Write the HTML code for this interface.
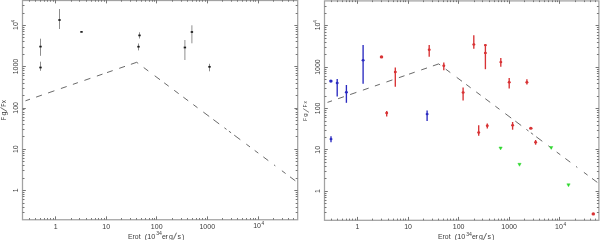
<!DOCTYPE html>
<html><head><meta charset="utf-8"><style>
html,body{margin:0;padding:0;background:#fff;}
body{width:600px;height:240px;overflow:hidden;font-family:"Liberation Sans",sans-serif;}
svg{display:block;}
</style></head><body>
<svg width="600" height="240" viewBox="0 0 600 240" font-family="Liberation Sans, sans-serif">
<defs><filter id="gs" x="0" y="0" width="600" height="240" filterUnits="userSpaceOnUse"><feColorMatrix type="saturate" values="0"/></filter></defs>
<rect width="600" height="240" fill="#fff"/>
<rect x="22.50" y="0.50" width="275.20" height="219.25" fill="none" stroke="#a2a2a2" stroke-width="1.25"/>
<line x1="29.50" y1="219.75" x2="29.50" y2="218.05" stroke="#767676" stroke-width="1.0" />
<line x1="29.50" y1="0.00" x2="29.50" y2="1.70" stroke="#767676" stroke-width="1.0" />
<line x1="35.50" y1="219.75" x2="35.50" y2="218.05" stroke="#767676" stroke-width="1.0" />
<line x1="35.50" y1="0.00" x2="35.50" y2="1.70" stroke="#767676" stroke-width="1.0" />
<line x1="40.50" y1="219.75" x2="40.50" y2="218.05" stroke="#767676" stroke-width="1.0" />
<line x1="40.50" y1="0.00" x2="40.50" y2="1.70" stroke="#767676" stroke-width="1.0" />
<line x1="44.50" y1="219.75" x2="44.50" y2="218.05" stroke="#767676" stroke-width="1.0" />
<line x1="44.50" y1="0.00" x2="44.50" y2="1.70" stroke="#767676" stroke-width="1.0" />
<line x1="47.50" y1="219.75" x2="47.50" y2="218.05" stroke="#767676" stroke-width="1.0" />
<line x1="47.50" y1="0.00" x2="47.50" y2="1.70" stroke="#767676" stroke-width="1.0" />
<line x1="50.50" y1="219.75" x2="50.50" y2="218.05" stroke="#767676" stroke-width="1.0" />
<line x1="50.50" y1="0.00" x2="50.50" y2="1.70" stroke="#767676" stroke-width="1.0" />
<line x1="53.50" y1="219.75" x2="53.50" y2="218.05" stroke="#767676" stroke-width="1.0" />
<line x1="53.50" y1="0.00" x2="53.50" y2="1.70" stroke="#767676" stroke-width="1.0" />
<line x1="55.50" y1="219.75" x2="55.50" y2="216.35" stroke="#767676" stroke-width="1.0" />
<line x1="55.50" y1="0.00" x2="55.50" y2="3.40" stroke="#767676" stroke-width="1.0" />
<line x1="71.50" y1="219.75" x2="71.50" y2="218.05" stroke="#767676" stroke-width="1.0" />
<line x1="71.50" y1="0.00" x2="71.50" y2="1.70" stroke="#767676" stroke-width="1.0" />
<line x1="79.50" y1="219.75" x2="79.50" y2="218.05" stroke="#767676" stroke-width="1.0" />
<line x1="79.50" y1="0.00" x2="79.50" y2="1.70" stroke="#767676" stroke-width="1.0" />
<line x1="86.50" y1="219.75" x2="86.50" y2="218.05" stroke="#767676" stroke-width="1.0" />
<line x1="86.50" y1="0.00" x2="86.50" y2="1.70" stroke="#767676" stroke-width="1.0" />
<line x1="91.50" y1="219.75" x2="91.50" y2="218.05" stroke="#767676" stroke-width="1.0" />
<line x1="91.50" y1="0.00" x2="91.50" y2="1.70" stroke="#767676" stroke-width="1.0" />
<line x1="95.50" y1="219.75" x2="95.50" y2="218.05" stroke="#767676" stroke-width="1.0" />
<line x1="95.50" y1="0.00" x2="95.50" y2="1.70" stroke="#767676" stroke-width="1.0" />
<line x1="98.50" y1="219.75" x2="98.50" y2="218.05" stroke="#767676" stroke-width="1.0" />
<line x1="98.50" y1="0.00" x2="98.50" y2="1.70" stroke="#767676" stroke-width="1.0" />
<line x1="101.50" y1="219.75" x2="101.50" y2="218.05" stroke="#767676" stroke-width="1.0" />
<line x1="101.50" y1="0.00" x2="101.50" y2="1.70" stroke="#767676" stroke-width="1.0" />
<line x1="104.50" y1="219.75" x2="104.50" y2="218.05" stroke="#767676" stroke-width="1.0" />
<line x1="104.50" y1="0.00" x2="104.50" y2="1.70" stroke="#767676" stroke-width="1.0" />
<line x1="106.50" y1="219.75" x2="106.50" y2="216.35" stroke="#767676" stroke-width="1.0" />
<line x1="106.50" y1="0.00" x2="106.50" y2="3.40" stroke="#767676" stroke-width="1.0" />
<line x1="121.50" y1="219.75" x2="121.50" y2="218.05" stroke="#767676" stroke-width="1.0" />
<line x1="121.50" y1="0.00" x2="121.50" y2="1.70" stroke="#767676" stroke-width="1.0" />
<line x1="130.50" y1="219.75" x2="130.50" y2="218.05" stroke="#767676" stroke-width="1.0" />
<line x1="130.50" y1="0.00" x2="130.50" y2="1.70" stroke="#767676" stroke-width="1.0" />
<line x1="136.50" y1="219.75" x2="136.50" y2="218.05" stroke="#767676" stroke-width="1.0" />
<line x1="136.50" y1="0.00" x2="136.50" y2="1.70" stroke="#767676" stroke-width="1.0" />
<line x1="141.50" y1="219.75" x2="141.50" y2="218.05" stroke="#767676" stroke-width="1.0" />
<line x1="141.50" y1="0.00" x2="141.50" y2="1.70" stroke="#767676" stroke-width="1.0" />
<line x1="145.50" y1="219.75" x2="145.50" y2="218.05" stroke="#767676" stroke-width="1.0" />
<line x1="145.50" y1="0.00" x2="145.50" y2="1.70" stroke="#767676" stroke-width="1.0" />
<line x1="149.50" y1="219.75" x2="149.50" y2="218.05" stroke="#767676" stroke-width="1.0" />
<line x1="149.50" y1="0.00" x2="149.50" y2="1.70" stroke="#767676" stroke-width="1.0" />
<line x1="152.50" y1="219.75" x2="152.50" y2="218.05" stroke="#767676" stroke-width="1.0" />
<line x1="152.50" y1="0.00" x2="152.50" y2="1.70" stroke="#767676" stroke-width="1.0" />
<line x1="154.50" y1="219.75" x2="154.50" y2="218.05" stroke="#767676" stroke-width="1.0" />
<line x1="154.50" y1="0.00" x2="154.50" y2="1.70" stroke="#767676" stroke-width="1.0" />
<line x1="156.50" y1="219.75" x2="156.50" y2="216.35" stroke="#767676" stroke-width="1.0" />
<line x1="156.50" y1="0.00" x2="156.50" y2="3.40" stroke="#767676" stroke-width="1.0" />
<line x1="172.50" y1="219.75" x2="172.50" y2="218.05" stroke="#767676" stroke-width="1.0" />
<line x1="172.50" y1="0.00" x2="172.50" y2="1.70" stroke="#767676" stroke-width="1.0" />
<line x1="181.50" y1="219.75" x2="181.50" y2="218.05" stroke="#767676" stroke-width="1.0" />
<line x1="181.50" y1="0.00" x2="181.50" y2="1.70" stroke="#767676" stroke-width="1.0" />
<line x1="187.50" y1="219.75" x2="187.50" y2="218.05" stroke="#767676" stroke-width="1.0" />
<line x1="187.50" y1="0.00" x2="187.50" y2="1.70" stroke="#767676" stroke-width="1.0" />
<line x1="192.50" y1="219.75" x2="192.50" y2="218.05" stroke="#767676" stroke-width="1.0" />
<line x1="192.50" y1="0.00" x2="192.50" y2="1.70" stroke="#767676" stroke-width="1.0" />
<line x1="196.50" y1="219.75" x2="196.50" y2="218.05" stroke="#767676" stroke-width="1.0" />
<line x1="196.50" y1="0.00" x2="196.50" y2="1.70" stroke="#767676" stroke-width="1.0" />
<line x1="199.50" y1="219.75" x2="199.50" y2="218.05" stroke="#767676" stroke-width="1.0" />
<line x1="199.50" y1="0.00" x2="199.50" y2="1.70" stroke="#767676" stroke-width="1.0" />
<line x1="202.50" y1="219.75" x2="202.50" y2="218.05" stroke="#767676" stroke-width="1.0" />
<line x1="202.50" y1="0.00" x2="202.50" y2="1.70" stroke="#767676" stroke-width="1.0" />
<line x1="205.50" y1="219.75" x2="205.50" y2="218.05" stroke="#767676" stroke-width="1.0" />
<line x1="205.50" y1="0.00" x2="205.50" y2="1.70" stroke="#767676" stroke-width="1.0" />
<line x1="207.50" y1="219.75" x2="207.50" y2="216.35" stroke="#767676" stroke-width="1.0" />
<line x1="207.50" y1="0.00" x2="207.50" y2="3.40" stroke="#767676" stroke-width="1.0" />
<line x1="222.50" y1="219.75" x2="222.50" y2="218.05" stroke="#767676" stroke-width="1.0" />
<line x1="222.50" y1="0.00" x2="222.50" y2="1.70" stroke="#767676" stroke-width="1.0" />
<line x1="231.50" y1="219.75" x2="231.50" y2="218.05" stroke="#767676" stroke-width="1.0" />
<line x1="231.50" y1="0.00" x2="231.50" y2="1.70" stroke="#767676" stroke-width="1.0" />
<line x1="237.50" y1="219.75" x2="237.50" y2="218.05" stroke="#767676" stroke-width="1.0" />
<line x1="237.50" y1="0.00" x2="237.50" y2="1.70" stroke="#767676" stroke-width="1.0" />
<line x1="242.50" y1="219.75" x2="242.50" y2="218.05" stroke="#767676" stroke-width="1.0" />
<line x1="242.50" y1="0.00" x2="242.50" y2="1.70" stroke="#767676" stroke-width="1.0" />
<line x1="246.50" y1="219.75" x2="246.50" y2="218.05" stroke="#767676" stroke-width="1.0" />
<line x1="246.50" y1="0.00" x2="246.50" y2="1.70" stroke="#767676" stroke-width="1.0" />
<line x1="250.50" y1="219.75" x2="250.50" y2="218.05" stroke="#767676" stroke-width="1.0" />
<line x1="250.50" y1="0.00" x2="250.50" y2="1.70" stroke="#767676" stroke-width="1.0" />
<line x1="253.50" y1="219.75" x2="253.50" y2="218.05" stroke="#767676" stroke-width="1.0" />
<line x1="253.50" y1="0.00" x2="253.50" y2="1.70" stroke="#767676" stroke-width="1.0" />
<line x1="255.50" y1="219.75" x2="255.50" y2="218.05" stroke="#767676" stroke-width="1.0" />
<line x1="255.50" y1="0.00" x2="255.50" y2="1.70" stroke="#767676" stroke-width="1.0" />
<line x1="258.50" y1="219.75" x2="258.50" y2="216.35" stroke="#767676" stroke-width="1.0" />
<line x1="258.50" y1="0.00" x2="258.50" y2="3.40" stroke="#767676" stroke-width="1.0" />
<line x1="273.50" y1="219.75" x2="273.50" y2="218.05" stroke="#767676" stroke-width="1.0" />
<line x1="273.50" y1="0.00" x2="273.50" y2="1.70" stroke="#767676" stroke-width="1.0" />
<line x1="282.50" y1="219.75" x2="282.50" y2="218.05" stroke="#767676" stroke-width="1.0" />
<line x1="282.50" y1="0.00" x2="282.50" y2="1.70" stroke="#767676" stroke-width="1.0" />
<line x1="288.50" y1="219.75" x2="288.50" y2="218.05" stroke="#767676" stroke-width="1.0" />
<line x1="288.50" y1="0.00" x2="288.50" y2="1.70" stroke="#767676" stroke-width="1.0" />
<line x1="293.50" y1="219.75" x2="293.50" y2="218.05" stroke="#767676" stroke-width="1.0" />
<line x1="293.50" y1="0.00" x2="293.50" y2="1.70" stroke="#767676" stroke-width="1.0" />
<line x1="22.50" y1="212.50" x2="24.50" y2="212.50" stroke="#767676" stroke-width="1.0" />
<line x1="297.70" y1="212.50" x2="295.70" y2="212.50" stroke="#767676" stroke-width="1.0" />
<line x1="22.50" y1="207.50" x2="24.50" y2="207.50" stroke="#767676" stroke-width="1.0" />
<line x1="297.70" y1="207.50" x2="295.70" y2="207.50" stroke="#767676" stroke-width="1.0" />
<line x1="22.50" y1="203.50" x2="24.50" y2="203.50" stroke="#767676" stroke-width="1.0" />
<line x1="297.70" y1="203.50" x2="295.70" y2="203.50" stroke="#767676" stroke-width="1.0" />
<line x1="22.50" y1="199.50" x2="24.50" y2="199.50" stroke="#767676" stroke-width="1.0" />
<line x1="297.70" y1="199.50" x2="295.70" y2="199.50" stroke="#767676" stroke-width="1.0" />
<line x1="22.50" y1="196.50" x2="24.50" y2="196.50" stroke="#767676" stroke-width="1.0" />
<line x1="297.70" y1="196.50" x2="295.70" y2="196.50" stroke="#767676" stroke-width="1.0" />
<line x1="22.50" y1="194.50" x2="24.50" y2="194.50" stroke="#767676" stroke-width="1.0" />
<line x1="297.70" y1="194.50" x2="295.70" y2="194.50" stroke="#767676" stroke-width="1.0" />
<line x1="22.50" y1="192.50" x2="24.50" y2="192.50" stroke="#767676" stroke-width="1.0" />
<line x1="297.70" y1="192.50" x2="295.70" y2="192.50" stroke="#767676" stroke-width="1.0" />
<line x1="22.50" y1="190.50" x2="25.80" y2="190.50" stroke="#767676" stroke-width="1.0" />
<line x1="297.70" y1="190.50" x2="294.40" y2="190.50" stroke="#767676" stroke-width="1.0" />
<line x1="22.50" y1="178.50" x2="24.50" y2="178.50" stroke="#767676" stroke-width="1.0" />
<line x1="297.70" y1="178.50" x2="295.70" y2="178.50" stroke="#767676" stroke-width="1.0" />
<line x1="22.50" y1="170.50" x2="24.50" y2="170.50" stroke="#767676" stroke-width="1.0" />
<line x1="297.70" y1="170.50" x2="295.70" y2="170.50" stroke="#767676" stroke-width="1.0" />
<line x1="22.50" y1="165.50" x2="24.50" y2="165.50" stroke="#767676" stroke-width="1.0" />
<line x1="297.70" y1="165.50" x2="295.70" y2="165.50" stroke="#767676" stroke-width="1.0" />
<line x1="22.50" y1="161.50" x2="24.50" y2="161.50" stroke="#767676" stroke-width="1.0" />
<line x1="297.70" y1="161.50" x2="295.70" y2="161.50" stroke="#767676" stroke-width="1.0" />
<line x1="22.50" y1="158.50" x2="24.50" y2="158.50" stroke="#767676" stroke-width="1.0" />
<line x1="297.70" y1="158.50" x2="295.70" y2="158.50" stroke="#767676" stroke-width="1.0" />
<line x1="22.50" y1="155.50" x2="24.50" y2="155.50" stroke="#767676" stroke-width="1.0" />
<line x1="297.70" y1="155.50" x2="295.70" y2="155.50" stroke="#767676" stroke-width="1.0" />
<line x1="22.50" y1="153.50" x2="24.50" y2="153.50" stroke="#767676" stroke-width="1.0" />
<line x1="297.70" y1="153.50" x2="295.70" y2="153.50" stroke="#767676" stroke-width="1.0" />
<line x1="22.50" y1="151.50" x2="24.50" y2="151.50" stroke="#767676" stroke-width="1.0" />
<line x1="297.70" y1="151.50" x2="295.70" y2="151.50" stroke="#767676" stroke-width="1.0" />
<line x1="22.50" y1="149.50" x2="25.80" y2="149.50" stroke="#767676" stroke-width="1.0" />
<line x1="297.70" y1="149.50" x2="294.40" y2="149.50" stroke="#767676" stroke-width="1.0" />
<line x1="22.50" y1="136.50" x2="24.50" y2="136.50" stroke="#767676" stroke-width="1.0" />
<line x1="297.70" y1="136.50" x2="295.70" y2="136.50" stroke="#767676" stroke-width="1.0" />
<line x1="22.50" y1="129.50" x2="24.50" y2="129.50" stroke="#767676" stroke-width="1.0" />
<line x1="297.70" y1="129.50" x2="295.70" y2="129.50" stroke="#767676" stroke-width="1.0" />
<line x1="22.50" y1="124.50" x2="24.50" y2="124.50" stroke="#767676" stroke-width="1.0" />
<line x1="297.70" y1="124.50" x2="295.70" y2="124.50" stroke="#767676" stroke-width="1.0" />
<line x1="22.50" y1="120.50" x2="24.50" y2="120.50" stroke="#767676" stroke-width="1.0" />
<line x1="297.70" y1="120.50" x2="295.70" y2="120.50" stroke="#767676" stroke-width="1.0" />
<line x1="22.50" y1="117.50" x2="24.50" y2="117.50" stroke="#767676" stroke-width="1.0" />
<line x1="297.70" y1="117.50" x2="295.70" y2="117.50" stroke="#767676" stroke-width="1.0" />
<line x1="22.50" y1="114.50" x2="24.50" y2="114.50" stroke="#767676" stroke-width="1.0" />
<line x1="297.70" y1="114.50" x2="295.70" y2="114.50" stroke="#767676" stroke-width="1.0" />
<line x1="22.50" y1="112.50" x2="24.50" y2="112.50" stroke="#767676" stroke-width="1.0" />
<line x1="297.70" y1="112.50" x2="295.70" y2="112.50" stroke="#767676" stroke-width="1.0" />
<line x1="22.50" y1="109.50" x2="24.50" y2="109.50" stroke="#767676" stroke-width="1.0" />
<line x1="297.70" y1="109.50" x2="295.70" y2="109.50" stroke="#767676" stroke-width="1.0" />
<line x1="22.50" y1="108.50" x2="25.80" y2="108.50" stroke="#767676" stroke-width="1.0" />
<line x1="297.70" y1="108.50" x2="294.40" y2="108.50" stroke="#767676" stroke-width="1.0" />
<line x1="22.50" y1="95.50" x2="24.50" y2="95.50" stroke="#767676" stroke-width="1.0" />
<line x1="297.70" y1="95.50" x2="295.70" y2="95.50" stroke="#767676" stroke-width="1.0" />
<line x1="22.50" y1="88.50" x2="24.50" y2="88.50" stroke="#767676" stroke-width="1.0" />
<line x1="297.70" y1="88.50" x2="295.70" y2="88.50" stroke="#767676" stroke-width="1.0" />
<line x1="22.50" y1="83.50" x2="24.50" y2="83.50" stroke="#767676" stroke-width="1.0" />
<line x1="297.70" y1="83.50" x2="295.70" y2="83.50" stroke="#767676" stroke-width="1.0" />
<line x1="22.50" y1="79.50" x2="24.50" y2="79.50" stroke="#767676" stroke-width="1.0" />
<line x1="297.70" y1="79.50" x2="295.70" y2="79.50" stroke="#767676" stroke-width="1.0" />
<line x1="22.50" y1="75.50" x2="24.50" y2="75.50" stroke="#767676" stroke-width="1.0" />
<line x1="297.70" y1="75.50" x2="295.70" y2="75.50" stroke="#767676" stroke-width="1.0" />
<line x1="22.50" y1="73.50" x2="24.50" y2="73.50" stroke="#767676" stroke-width="1.0" />
<line x1="297.70" y1="73.50" x2="295.70" y2="73.50" stroke="#767676" stroke-width="1.0" />
<line x1="22.50" y1="70.50" x2="24.50" y2="70.50" stroke="#767676" stroke-width="1.0" />
<line x1="297.70" y1="70.50" x2="295.70" y2="70.50" stroke="#767676" stroke-width="1.0" />
<line x1="22.50" y1="68.50" x2="24.50" y2="68.50" stroke="#767676" stroke-width="1.0" />
<line x1="297.70" y1="68.50" x2="295.70" y2="68.50" stroke="#767676" stroke-width="1.0" />
<line x1="22.50" y1="66.50" x2="25.80" y2="66.50" stroke="#767676" stroke-width="1.0" />
<line x1="297.70" y1="66.50" x2="294.40" y2="66.50" stroke="#767676" stroke-width="1.0" />
<line x1="22.50" y1="54.50" x2="24.50" y2="54.50" stroke="#767676" stroke-width="1.0" />
<line x1="297.70" y1="54.50" x2="295.70" y2="54.50" stroke="#767676" stroke-width="1.0" />
<line x1="22.50" y1="47.50" x2="24.50" y2="47.50" stroke="#767676" stroke-width="1.0" />
<line x1="297.70" y1="47.50" x2="295.70" y2="47.50" stroke="#767676" stroke-width="1.0" />
<line x1="22.50" y1="41.50" x2="24.50" y2="41.50" stroke="#767676" stroke-width="1.0" />
<line x1="297.70" y1="41.50" x2="295.70" y2="41.50" stroke="#767676" stroke-width="1.0" />
<line x1="22.50" y1="37.50" x2="24.50" y2="37.50" stroke="#767676" stroke-width="1.0" />
<line x1="297.70" y1="37.50" x2="295.70" y2="37.50" stroke="#767676" stroke-width="1.0" />
<line x1="22.50" y1="34.50" x2="24.50" y2="34.50" stroke="#767676" stroke-width="1.0" />
<line x1="297.70" y1="34.50" x2="295.70" y2="34.50" stroke="#767676" stroke-width="1.0" />
<line x1="22.50" y1="31.50" x2="24.50" y2="31.50" stroke="#767676" stroke-width="1.0" />
<line x1="297.70" y1="31.50" x2="295.70" y2="31.50" stroke="#767676" stroke-width="1.0" />
<line x1="22.50" y1="29.50" x2="24.50" y2="29.50" stroke="#767676" stroke-width="1.0" />
<line x1="297.70" y1="29.50" x2="295.70" y2="29.50" stroke="#767676" stroke-width="1.0" />
<line x1="22.50" y1="27.50" x2="24.50" y2="27.50" stroke="#767676" stroke-width="1.0" />
<line x1="297.70" y1="27.50" x2="295.70" y2="27.50" stroke="#767676" stroke-width="1.0" />
<line x1="22.50" y1="25.50" x2="25.80" y2="25.50" stroke="#767676" stroke-width="1.0" />
<line x1="297.70" y1="25.50" x2="294.40" y2="25.50" stroke="#767676" stroke-width="1.0" />
<line x1="22.50" y1="13.50" x2="24.50" y2="13.50" stroke="#767676" stroke-width="1.0" />
<line x1="297.70" y1="13.50" x2="295.70" y2="13.50" stroke="#767676" stroke-width="1.0" />
<line x1="22.50" y1="5.50" x2="24.50" y2="5.50" stroke="#767676" stroke-width="1.0" />
<line x1="297.70" y1="5.50" x2="295.70" y2="5.50" stroke="#767676" stroke-width="1.0" />
<rect x="324.50" y="0.90" width="274.40" height="219.40" fill="none" stroke="#a2a2a2" stroke-width="1.25"/>
<line x1="331.50" y1="220.30" x2="331.50" y2="218.60" stroke="#767676" stroke-width="1.0" />
<line x1="331.50" y1="0.40" x2="331.50" y2="2.10" stroke="#767676" stroke-width="1.0" />
<line x1="337.50" y1="220.30" x2="337.50" y2="218.60" stroke="#767676" stroke-width="1.0" />
<line x1="337.50" y1="0.40" x2="337.50" y2="2.10" stroke="#767676" stroke-width="1.0" />
<line x1="342.50" y1="220.30" x2="342.50" y2="218.60" stroke="#767676" stroke-width="1.0" />
<line x1="342.50" y1="0.40" x2="342.50" y2="2.10" stroke="#767676" stroke-width="1.0" />
<line x1="346.50" y1="220.30" x2="346.50" y2="218.60" stroke="#767676" stroke-width="1.0" />
<line x1="346.50" y1="0.40" x2="346.50" y2="2.10" stroke="#767676" stroke-width="1.0" />
<line x1="349.50" y1="220.30" x2="349.50" y2="218.60" stroke="#767676" stroke-width="1.0" />
<line x1="349.50" y1="0.40" x2="349.50" y2="2.10" stroke="#767676" stroke-width="1.0" />
<line x1="352.50" y1="220.30" x2="352.50" y2="218.60" stroke="#767676" stroke-width="1.0" />
<line x1="352.50" y1="0.40" x2="352.50" y2="2.10" stroke="#767676" stroke-width="1.0" />
<line x1="355.50" y1="220.30" x2="355.50" y2="218.60" stroke="#767676" stroke-width="1.0" />
<line x1="355.50" y1="0.40" x2="355.50" y2="2.10" stroke="#767676" stroke-width="1.0" />
<line x1="357.50" y1="220.30" x2="357.50" y2="216.90" stroke="#767676" stroke-width="1.0" />
<line x1="357.50" y1="0.40" x2="357.50" y2="3.80" stroke="#767676" stroke-width="1.0" />
<line x1="372.50" y1="220.30" x2="372.50" y2="218.60" stroke="#767676" stroke-width="1.0" />
<line x1="372.50" y1="0.40" x2="372.50" y2="2.10" stroke="#767676" stroke-width="1.0" />
<line x1="381.50" y1="220.30" x2="381.50" y2="218.60" stroke="#767676" stroke-width="1.0" />
<line x1="381.50" y1="0.40" x2="381.50" y2="2.10" stroke="#767676" stroke-width="1.0" />
<line x1="388.50" y1="220.30" x2="388.50" y2="218.60" stroke="#767676" stroke-width="1.0" />
<line x1="388.50" y1="0.40" x2="388.50" y2="2.10" stroke="#767676" stroke-width="1.0" />
<line x1="393.50" y1="220.30" x2="393.50" y2="218.60" stroke="#767676" stroke-width="1.0" />
<line x1="393.50" y1="0.40" x2="393.50" y2="2.10" stroke="#767676" stroke-width="1.0" />
<line x1="397.50" y1="220.30" x2="397.50" y2="218.60" stroke="#767676" stroke-width="1.0" />
<line x1="397.50" y1="0.40" x2="397.50" y2="2.10" stroke="#767676" stroke-width="1.0" />
<line x1="400.50" y1="220.30" x2="400.50" y2="218.60" stroke="#767676" stroke-width="1.0" />
<line x1="400.50" y1="0.40" x2="400.50" y2="2.10" stroke="#767676" stroke-width="1.0" />
<line x1="403.50" y1="220.30" x2="403.50" y2="218.60" stroke="#767676" stroke-width="1.0" />
<line x1="403.50" y1="0.40" x2="403.50" y2="2.10" stroke="#767676" stroke-width="1.0" />
<line x1="405.50" y1="220.30" x2="405.50" y2="218.60" stroke="#767676" stroke-width="1.0" />
<line x1="405.50" y1="0.40" x2="405.50" y2="2.10" stroke="#767676" stroke-width="1.0" />
<line x1="408.50" y1="220.30" x2="408.50" y2="216.90" stroke="#767676" stroke-width="1.0" />
<line x1="408.50" y1="0.40" x2="408.50" y2="3.80" stroke="#767676" stroke-width="1.0" />
<line x1="423.50" y1="220.30" x2="423.50" y2="218.60" stroke="#767676" stroke-width="1.0" />
<line x1="423.50" y1="0.40" x2="423.50" y2="2.10" stroke="#767676" stroke-width="1.0" />
<line x1="432.50" y1="220.30" x2="432.50" y2="218.60" stroke="#767676" stroke-width="1.0" />
<line x1="432.50" y1="0.40" x2="432.50" y2="2.10" stroke="#767676" stroke-width="1.0" />
<line x1="438.50" y1="220.30" x2="438.50" y2="218.60" stroke="#767676" stroke-width="1.0" />
<line x1="438.50" y1="0.40" x2="438.50" y2="2.10" stroke="#767676" stroke-width="1.0" />
<line x1="443.50" y1="220.30" x2="443.50" y2="218.60" stroke="#767676" stroke-width="1.0" />
<line x1="443.50" y1="0.40" x2="443.50" y2="2.10" stroke="#767676" stroke-width="1.0" />
<line x1="447.50" y1="220.30" x2="447.50" y2="218.60" stroke="#767676" stroke-width="1.0" />
<line x1="447.50" y1="0.40" x2="447.50" y2="2.10" stroke="#767676" stroke-width="1.0" />
<line x1="450.50" y1="220.30" x2="450.50" y2="218.60" stroke="#767676" stroke-width="1.0" />
<line x1="450.50" y1="0.40" x2="450.50" y2="2.10" stroke="#767676" stroke-width="1.0" />
<line x1="453.50" y1="220.30" x2="453.50" y2="218.60" stroke="#767676" stroke-width="1.0" />
<line x1="453.50" y1="0.40" x2="453.50" y2="2.10" stroke="#767676" stroke-width="1.0" />
<line x1="456.50" y1="220.30" x2="456.50" y2="218.60" stroke="#767676" stroke-width="1.0" />
<line x1="456.50" y1="0.40" x2="456.50" y2="2.10" stroke="#767676" stroke-width="1.0" />
<line x1="458.50" y1="220.30" x2="458.50" y2="216.90" stroke="#767676" stroke-width="1.0" />
<line x1="458.50" y1="0.40" x2="458.50" y2="3.80" stroke="#767676" stroke-width="1.0" />
<line x1="474.50" y1="220.30" x2="474.50" y2="218.60" stroke="#767676" stroke-width="1.0" />
<line x1="474.50" y1="0.40" x2="474.50" y2="2.10" stroke="#767676" stroke-width="1.0" />
<line x1="482.50" y1="220.30" x2="482.50" y2="218.60" stroke="#767676" stroke-width="1.0" />
<line x1="482.50" y1="0.40" x2="482.50" y2="2.10" stroke="#767676" stroke-width="1.0" />
<line x1="489.50" y1="220.30" x2="489.50" y2="218.60" stroke="#767676" stroke-width="1.0" />
<line x1="489.50" y1="0.40" x2="489.50" y2="2.10" stroke="#767676" stroke-width="1.0" />
<line x1="494.50" y1="220.30" x2="494.50" y2="218.60" stroke="#767676" stroke-width="1.0" />
<line x1="494.50" y1="0.40" x2="494.50" y2="2.10" stroke="#767676" stroke-width="1.0" />
<line x1="498.50" y1="220.30" x2="498.50" y2="218.60" stroke="#767676" stroke-width="1.0" />
<line x1="498.50" y1="0.40" x2="498.50" y2="2.10" stroke="#767676" stroke-width="1.0" />
<line x1="501.50" y1="220.30" x2="501.50" y2="218.60" stroke="#767676" stroke-width="1.0" />
<line x1="501.50" y1="0.40" x2="501.50" y2="2.10" stroke="#767676" stroke-width="1.0" />
<line x1="504.50" y1="220.30" x2="504.50" y2="218.60" stroke="#767676" stroke-width="1.0" />
<line x1="504.50" y1="0.40" x2="504.50" y2="2.10" stroke="#767676" stroke-width="1.0" />
<line x1="507.50" y1="220.30" x2="507.50" y2="218.60" stroke="#767676" stroke-width="1.0" />
<line x1="507.50" y1="0.40" x2="507.50" y2="2.10" stroke="#767676" stroke-width="1.0" />
<line x1="509.50" y1="220.30" x2="509.50" y2="216.90" stroke="#767676" stroke-width="1.0" />
<line x1="509.50" y1="0.40" x2="509.50" y2="3.80" stroke="#767676" stroke-width="1.0" />
<line x1="524.50" y1="220.30" x2="524.50" y2="218.60" stroke="#767676" stroke-width="1.0" />
<line x1="524.50" y1="0.40" x2="524.50" y2="2.10" stroke="#767676" stroke-width="1.0" />
<line x1="533.50" y1="220.30" x2="533.50" y2="218.60" stroke="#767676" stroke-width="1.0" />
<line x1="533.50" y1="0.40" x2="533.50" y2="2.10" stroke="#767676" stroke-width="1.0" />
<line x1="539.50" y1="220.30" x2="539.50" y2="218.60" stroke="#767676" stroke-width="1.0" />
<line x1="539.50" y1="0.40" x2="539.50" y2="2.10" stroke="#767676" stroke-width="1.0" />
<line x1="544.50" y1="220.30" x2="544.50" y2="218.60" stroke="#767676" stroke-width="1.0" />
<line x1="544.50" y1="0.40" x2="544.50" y2="2.10" stroke="#767676" stroke-width="1.0" />
<line x1="548.50" y1="220.30" x2="548.50" y2="218.60" stroke="#767676" stroke-width="1.0" />
<line x1="548.50" y1="0.40" x2="548.50" y2="2.10" stroke="#767676" stroke-width="1.0" />
<line x1="552.50" y1="220.30" x2="552.50" y2="218.60" stroke="#767676" stroke-width="1.0" />
<line x1="552.50" y1="0.40" x2="552.50" y2="2.10" stroke="#767676" stroke-width="1.0" />
<line x1="555.50" y1="220.30" x2="555.50" y2="218.60" stroke="#767676" stroke-width="1.0" />
<line x1="555.50" y1="0.40" x2="555.50" y2="2.10" stroke="#767676" stroke-width="1.0" />
<line x1="557.50" y1="220.30" x2="557.50" y2="218.60" stroke="#767676" stroke-width="1.0" />
<line x1="557.50" y1="0.40" x2="557.50" y2="2.10" stroke="#767676" stroke-width="1.0" />
<line x1="559.50" y1="220.30" x2="559.50" y2="216.90" stroke="#767676" stroke-width="1.0" />
<line x1="559.50" y1="0.40" x2="559.50" y2="3.80" stroke="#767676" stroke-width="1.0" />
<line x1="575.50" y1="220.30" x2="575.50" y2="218.60" stroke="#767676" stroke-width="1.0" />
<line x1="575.50" y1="0.40" x2="575.50" y2="2.10" stroke="#767676" stroke-width="1.0" />
<line x1="584.50" y1="220.30" x2="584.50" y2="218.60" stroke="#767676" stroke-width="1.0" />
<line x1="584.50" y1="0.40" x2="584.50" y2="2.10" stroke="#767676" stroke-width="1.0" />
<line x1="590.50" y1="220.30" x2="590.50" y2="218.60" stroke="#767676" stroke-width="1.0" />
<line x1="590.50" y1="0.40" x2="590.50" y2="2.10" stroke="#767676" stroke-width="1.0" />
<line x1="595.50" y1="220.30" x2="595.50" y2="218.60" stroke="#767676" stroke-width="1.0" />
<line x1="595.50" y1="0.40" x2="595.50" y2="2.10" stroke="#767676" stroke-width="1.0" />
<line x1="324.50" y1="212.50" x2="326.50" y2="212.50" stroke="#767676" stroke-width="1.0" />
<line x1="598.90" y1="212.50" x2="596.90" y2="212.50" stroke="#767676" stroke-width="1.0" />
<line x1="324.50" y1="207.50" x2="326.50" y2="207.50" stroke="#767676" stroke-width="1.0" />
<line x1="598.90" y1="207.50" x2="596.90" y2="207.50" stroke="#767676" stroke-width="1.0" />
<line x1="324.50" y1="203.50" x2="326.50" y2="203.50" stroke="#767676" stroke-width="1.0" />
<line x1="598.90" y1="203.50" x2="596.90" y2="203.50" stroke="#767676" stroke-width="1.0" />
<line x1="324.50" y1="200.50" x2="326.50" y2="200.50" stroke="#767676" stroke-width="1.0" />
<line x1="598.90" y1="200.50" x2="596.90" y2="200.50" stroke="#767676" stroke-width="1.0" />
<line x1="324.50" y1="197.50" x2="326.50" y2="197.50" stroke="#767676" stroke-width="1.0" />
<line x1="598.90" y1="197.50" x2="596.90" y2="197.50" stroke="#767676" stroke-width="1.0" />
<line x1="324.50" y1="195.50" x2="326.50" y2="195.50" stroke="#767676" stroke-width="1.0" />
<line x1="598.90" y1="195.50" x2="596.90" y2="195.50" stroke="#767676" stroke-width="1.0" />
<line x1="324.50" y1="193.50" x2="326.50" y2="193.50" stroke="#767676" stroke-width="1.0" />
<line x1="598.90" y1="193.50" x2="596.90" y2="193.50" stroke="#767676" stroke-width="1.0" />
<line x1="324.50" y1="191.50" x2="327.80" y2="191.50" stroke="#767676" stroke-width="1.0" />
<line x1="598.90" y1="191.50" x2="595.60" y2="191.50" stroke="#767676" stroke-width="1.0" />
<line x1="324.50" y1="178.50" x2="326.50" y2="178.50" stroke="#767676" stroke-width="1.0" />
<line x1="598.90" y1="178.50" x2="596.90" y2="178.50" stroke="#767676" stroke-width="1.0" />
<line x1="324.50" y1="171.50" x2="326.50" y2="171.50" stroke="#767676" stroke-width="1.0" />
<line x1="598.90" y1="171.50" x2="596.90" y2="171.50" stroke="#767676" stroke-width="1.0" />
<line x1="324.50" y1="166.50" x2="326.50" y2="166.50" stroke="#767676" stroke-width="1.0" />
<line x1="598.90" y1="166.50" x2="596.90" y2="166.50" stroke="#767676" stroke-width="1.0" />
<line x1="324.50" y1="162.50" x2="326.50" y2="162.50" stroke="#767676" stroke-width="1.0" />
<line x1="598.90" y1="162.50" x2="596.90" y2="162.50" stroke="#767676" stroke-width="1.0" />
<line x1="324.50" y1="159.50" x2="326.50" y2="159.50" stroke="#767676" stroke-width="1.0" />
<line x1="598.90" y1="159.50" x2="596.90" y2="159.50" stroke="#767676" stroke-width="1.0" />
<line x1="324.50" y1="156.50" x2="326.50" y2="156.50" stroke="#767676" stroke-width="1.0" />
<line x1="598.90" y1="156.50" x2="596.90" y2="156.50" stroke="#767676" stroke-width="1.0" />
<line x1="324.50" y1="153.50" x2="326.50" y2="153.50" stroke="#767676" stroke-width="1.0" />
<line x1="598.90" y1="153.50" x2="596.90" y2="153.50" stroke="#767676" stroke-width="1.0" />
<line x1="324.50" y1="151.50" x2="326.50" y2="151.50" stroke="#767676" stroke-width="1.0" />
<line x1="598.90" y1="151.50" x2="596.90" y2="151.50" stroke="#767676" stroke-width="1.0" />
<line x1="324.50" y1="149.50" x2="327.80" y2="149.50" stroke="#767676" stroke-width="1.0" />
<line x1="598.90" y1="149.50" x2="595.60" y2="149.50" stroke="#767676" stroke-width="1.0" />
<line x1="324.50" y1="137.50" x2="326.50" y2="137.50" stroke="#767676" stroke-width="1.0" />
<line x1="598.90" y1="137.50" x2="596.90" y2="137.50" stroke="#767676" stroke-width="1.0" />
<line x1="324.50" y1="130.50" x2="326.50" y2="130.50" stroke="#767676" stroke-width="1.0" />
<line x1="598.90" y1="130.50" x2="596.90" y2="130.50" stroke="#767676" stroke-width="1.0" />
<line x1="324.50" y1="125.50" x2="326.50" y2="125.50" stroke="#767676" stroke-width="1.0" />
<line x1="598.90" y1="125.50" x2="596.90" y2="125.50" stroke="#767676" stroke-width="1.0" />
<line x1="324.50" y1="121.50" x2="326.50" y2="121.50" stroke="#767676" stroke-width="1.0" />
<line x1="598.90" y1="121.50" x2="596.90" y2="121.50" stroke="#767676" stroke-width="1.0" />
<line x1="324.50" y1="117.50" x2="326.50" y2="117.50" stroke="#767676" stroke-width="1.0" />
<line x1="598.90" y1="117.50" x2="596.90" y2="117.50" stroke="#767676" stroke-width="1.0" />
<line x1="324.50" y1="115.50" x2="326.50" y2="115.50" stroke="#767676" stroke-width="1.0" />
<line x1="598.90" y1="115.50" x2="596.90" y2="115.50" stroke="#767676" stroke-width="1.0" />
<line x1="324.50" y1="112.50" x2="326.50" y2="112.50" stroke="#767676" stroke-width="1.0" />
<line x1="598.90" y1="112.50" x2="596.90" y2="112.50" stroke="#767676" stroke-width="1.0" />
<line x1="324.50" y1="110.50" x2="326.50" y2="110.50" stroke="#767676" stroke-width="1.0" />
<line x1="598.90" y1="110.50" x2="596.90" y2="110.50" stroke="#767676" stroke-width="1.0" />
<line x1="324.50" y1="108.50" x2="327.80" y2="108.50" stroke="#767676" stroke-width="1.0" />
<line x1="598.90" y1="108.50" x2="595.60" y2="108.50" stroke="#767676" stroke-width="1.0" />
<line x1="324.50" y1="96.50" x2="326.50" y2="96.50" stroke="#767676" stroke-width="1.0" />
<line x1="598.90" y1="96.50" x2="596.90" y2="96.50" stroke="#767676" stroke-width="1.0" />
<line x1="324.50" y1="88.50" x2="326.50" y2="88.50" stroke="#767676" stroke-width="1.0" />
<line x1="598.90" y1="88.50" x2="596.90" y2="88.50" stroke="#767676" stroke-width="1.0" />
<line x1="324.50" y1="83.50" x2="326.50" y2="83.50" stroke="#767676" stroke-width="1.0" />
<line x1="598.90" y1="83.50" x2="596.90" y2="83.50" stroke="#767676" stroke-width="1.0" />
<line x1="324.50" y1="79.50" x2="326.50" y2="79.50" stroke="#767676" stroke-width="1.0" />
<line x1="598.90" y1="79.50" x2="596.90" y2="79.50" stroke="#767676" stroke-width="1.0" />
<line x1="324.50" y1="76.50" x2="326.50" y2="76.50" stroke="#767676" stroke-width="1.0" />
<line x1="598.90" y1="76.50" x2="596.90" y2="76.50" stroke="#767676" stroke-width="1.0" />
<line x1="324.50" y1="73.50" x2="326.50" y2="73.50" stroke="#767676" stroke-width="1.0" />
<line x1="598.90" y1="73.50" x2="596.90" y2="73.50" stroke="#767676" stroke-width="1.0" />
<line x1="324.50" y1="71.50" x2="326.50" y2="71.50" stroke="#767676" stroke-width="1.0" />
<line x1="598.90" y1="71.50" x2="596.90" y2="71.50" stroke="#767676" stroke-width="1.0" />
<line x1="324.50" y1="69.50" x2="326.50" y2="69.50" stroke="#767676" stroke-width="1.0" />
<line x1="598.90" y1="69.50" x2="596.90" y2="69.50" stroke="#767676" stroke-width="1.0" />
<line x1="324.50" y1="67.50" x2="327.80" y2="67.50" stroke="#767676" stroke-width="1.0" />
<line x1="598.90" y1="67.50" x2="595.60" y2="67.50" stroke="#767676" stroke-width="1.0" />
<line x1="324.50" y1="54.50" x2="326.50" y2="54.50" stroke="#767676" stroke-width="1.0" />
<line x1="598.90" y1="54.50" x2="596.90" y2="54.50" stroke="#767676" stroke-width="1.0" />
<line x1="324.50" y1="47.50" x2="326.50" y2="47.50" stroke="#767676" stroke-width="1.0" />
<line x1="598.90" y1="47.50" x2="596.90" y2="47.50" stroke="#767676" stroke-width="1.0" />
<line x1="324.50" y1="42.50" x2="326.50" y2="42.50" stroke="#767676" stroke-width="1.0" />
<line x1="598.90" y1="42.50" x2="596.90" y2="42.50" stroke="#767676" stroke-width="1.0" />
<line x1="324.50" y1="38.50" x2="326.50" y2="38.50" stroke="#767676" stroke-width="1.0" />
<line x1="598.90" y1="38.50" x2="596.90" y2="38.50" stroke="#767676" stroke-width="1.0" />
<line x1="324.50" y1="35.50" x2="326.50" y2="35.50" stroke="#767676" stroke-width="1.0" />
<line x1="598.90" y1="35.50" x2="596.90" y2="35.50" stroke="#767676" stroke-width="1.0" />
<line x1="324.50" y1="32.50" x2="326.50" y2="32.50" stroke="#767676" stroke-width="1.0" />
<line x1="598.90" y1="32.50" x2="596.90" y2="32.50" stroke="#767676" stroke-width="1.0" />
<line x1="324.50" y1="29.50" x2="326.50" y2="29.50" stroke="#767676" stroke-width="1.0" />
<line x1="598.90" y1="29.50" x2="596.90" y2="29.50" stroke="#767676" stroke-width="1.0" />
<line x1="324.50" y1="27.50" x2="326.50" y2="27.50" stroke="#767676" stroke-width="1.0" />
<line x1="598.90" y1="27.50" x2="596.90" y2="27.50" stroke="#767676" stroke-width="1.0" />
<line x1="324.50" y1="25.50" x2="327.80" y2="25.50" stroke="#767676" stroke-width="1.0" />
<line x1="598.90" y1="25.50" x2="595.60" y2="25.50" stroke="#767676" stroke-width="1.0" />
<line x1="324.50" y1="13.50" x2="326.50" y2="13.50" stroke="#767676" stroke-width="1.0" />
<line x1="598.90" y1="13.50" x2="596.90" y2="13.50" stroke="#767676" stroke-width="1.0" />
<line x1="324.50" y1="6.50" x2="326.50" y2="6.50" stroke="#767676" stroke-width="1.0" />
<line x1="598.90" y1="6.50" x2="596.90" y2="6.50" stroke="#767676" stroke-width="1.0" />
<polyline points="25.50,100.78 30.00,99.22" fill="none" stroke="#585858" stroke-width="0.9"/>
<polyline points="36.10,97.11 41.90,95.10" fill="none" stroke="#585858" stroke-width="0.9"/>
<polyline points="48.10,92.96 54.40,90.78" fill="none" stroke="#585858" stroke-width="0.9"/>
<polyline points="60.90,88.53 66.70,86.52" fill="none" stroke="#585858" stroke-width="0.9"/>
<polyline points="72.90,84.37 77.90,82.64" fill="none" stroke="#585858" stroke-width="0.9"/>
<polyline points="84.40,80.40 90.40,78.32" fill="none" stroke="#585858" stroke-width="0.9"/>
<polyline points="96.90,76.07 102.50,74.13" fill="none" stroke="#585858" stroke-width="0.9"/>
<polyline points="107.00,72.58 112.70,70.60" fill="none" stroke="#585858" stroke-width="0.9"/>
<polyline points="119.20,68.35 125.00,66.35" fill="none" stroke="#585858" stroke-width="0.9"/>
<polyline points="130.90,64.31 136.70,62.30 138.20,63.42" fill="none" stroke="#585858" stroke-width="0.9"/>
<polyline points="143.70,67.53 148.30,70.97" fill="none" stroke="#585858" stroke-width="0.9"/>
<polyline points="154.70,75.75 160.00,79.71" fill="none" stroke="#585858" stroke-width="0.9"/>
<polyline points="164.20,82.84 168.70,86.20" fill="none" stroke="#585858" stroke-width="0.9"/>
<polyline points="174.20,90.31 178.70,93.67" fill="none" stroke="#585858" stroke-width="0.9"/>
<polyline points="183.30,97.11 188.20,100.77" fill="none" stroke="#585858" stroke-width="0.9"/>
<polyline points="193.30,104.58 197.50,107.72" fill="none" stroke="#585858" stroke-width="0.9"/>
<polyline points="203.30,112.05 209.20,116.46" fill="none" stroke="#585858" stroke-width="0.9"/>
<polyline points="213.30,119.52 219.20,123.93" fill="none" stroke="#585858" stroke-width="0.9"/>
<polyline points="224.40,127.81 226.50,129.38" fill="none" stroke="#585858" stroke-width="0.9"/>
<polyline points="228.90,131.17 231.10,132.82" fill="none" stroke="#585858" stroke-width="0.9"/>
<polyline points="234.20,135.13 240.30,139.69" fill="none" stroke="#585858" stroke-width="0.9"/>
<polyline points="246.30,144.17 250.00,146.94" fill="none" stroke="#585858" stroke-width="0.9"/>
<polyline points="254.70,150.45 258.30,153.14" fill="none" stroke="#585858" stroke-width="0.9"/>
<polyline points="263.30,156.87 268.30,160.61" fill="none" stroke="#585858" stroke-width="0.9"/>
<polyline points="274.00,164.86 275.30,165.83" fill="none" stroke="#585858" stroke-width="0.9"/>
<polyline points="281.90,170.76 285.60,173.53" fill="none" stroke="#585858" stroke-width="0.9"/>
<polyline points="290.00,176.82 295.30,180.77" fill="none" stroke="#585858" stroke-width="0.9"/>
<polyline points="327.50,102.38 332.00,100.82" fill="none" stroke="#585858" stroke-width="0.9"/>
<polyline points="338.10,98.71 343.90,96.70" fill="none" stroke="#585858" stroke-width="0.9"/>
<polyline points="350.10,94.56 356.40,92.38" fill="none" stroke="#585858" stroke-width="0.9"/>
<polyline points="362.90,90.13 368.70,88.12" fill="none" stroke="#585858" stroke-width="0.9"/>
<polyline points="374.90,85.97 379.90,84.24" fill="none" stroke="#585858" stroke-width="0.9"/>
<polyline points="386.40,82.00 392.40,79.92" fill="none" stroke="#585858" stroke-width="0.9"/>
<polyline points="398.90,77.67 404.50,75.73" fill="none" stroke="#585858" stroke-width="0.9"/>
<polyline points="409.00,74.18 414.70,72.20" fill="none" stroke="#585858" stroke-width="0.9"/>
<polyline points="421.20,69.95 427.00,67.95" fill="none" stroke="#585858" stroke-width="0.9"/>
<polyline points="432.90,65.91 438.70,63.90 440.20,65.02" fill="none" stroke="#585858" stroke-width="0.9"/>
<polyline points="445.70,69.13 450.30,72.57" fill="none" stroke="#585858" stroke-width="0.9"/>
<polyline points="456.70,77.35 462.00,81.31" fill="none" stroke="#585858" stroke-width="0.9"/>
<polyline points="466.20,84.44 470.70,87.80" fill="none" stroke="#585858" stroke-width="0.9"/>
<polyline points="476.20,91.91 480.70,95.27" fill="none" stroke="#585858" stroke-width="0.9"/>
<polyline points="485.30,98.71 490.20,102.37" fill="none" stroke="#585858" stroke-width="0.9"/>
<polyline points="495.30,106.18 499.50,109.32" fill="none" stroke="#585858" stroke-width="0.9"/>
<polyline points="505.30,113.65 511.20,118.06" fill="none" stroke="#585858" stroke-width="0.9"/>
<polyline points="515.30,121.12 521.20,125.53" fill="none" stroke="#585858" stroke-width="0.9"/>
<polyline points="526.40,129.41 528.50,130.98" fill="none" stroke="#585858" stroke-width="0.9"/>
<polyline points="530.90,132.77 533.10,134.42" fill="none" stroke="#585858" stroke-width="0.9"/>
<polyline points="536.20,136.73 542.30,141.29" fill="none" stroke="#585858" stroke-width="0.9"/>
<polyline points="548.30,145.77 552.00,148.54" fill="none" stroke="#585858" stroke-width="0.9"/>
<polyline points="556.70,152.05 560.30,154.74" fill="none" stroke="#585858" stroke-width="0.9"/>
<polyline points="565.30,158.47 570.30,162.21" fill="none" stroke="#585858" stroke-width="0.9"/>
<polyline points="576.00,166.46 577.30,167.43" fill="none" stroke="#585858" stroke-width="0.9"/>
<polyline points="583.90,172.36 587.60,175.13" fill="none" stroke="#585858" stroke-width="0.9"/>
<polyline points="592.00,178.42 597.30,182.37" fill="none" stroke="#585858" stroke-width="0.9"/>
<line x1="40.50" y1="38.70" x2="40.50" y2="55.80" stroke="#8e8e8e" stroke-width="1.0" />
<rect x="39.30" y="45.75" width="2.4" height="1.7" fill="#1a1a1a"/>
<line x1="40.50" y1="61.70" x2="40.50" y2="70.80" stroke="#8e8e8e" stroke-width="1.0" />
<rect x="39.30" y="66.65" width="2.4" height="1.7" fill="#1a1a1a"/>
<line x1="59.50" y1="9.00" x2="59.50" y2="29.00" stroke="#8e8e8e" stroke-width="1.0" />
<rect x="58.30" y="19.15" width="2.4" height="1.7" fill="#1a1a1a"/>
<rect x="80.30" y="31.05" width="2.4" height="1.7" fill="#1a1a1a"/>
<line x1="139.50" y1="32.30" x2="139.50" y2="38.50" stroke="#8e8e8e" stroke-width="1.0" />
<rect x="138.30" y="34.55" width="2.4" height="1.7" fill="#1a1a1a"/>
<line x1="138.50" y1="43.50" x2="138.50" y2="50.40" stroke="#8e8e8e" stroke-width="1.0" />
<rect x="137.30" y="45.85" width="2.4" height="1.7" fill="#1a1a1a"/>
<line x1="184.90" y1="40.00" x2="184.90" y2="60.00" stroke="#8e8e8e" stroke-width="1.0" />
<rect x="183.70" y="46.65" width="2.4" height="1.7" fill="#1a1a1a"/>
<line x1="191.90" y1="25.30" x2="191.90" y2="43.30" stroke="#8e8e8e" stroke-width="1.0" />
<rect x="190.70" y="31.15" width="2.4" height="1.7" fill="#1a1a1a"/>
<line x1="209.50" y1="63.80" x2="209.50" y2="71.30" stroke="#8e8e8e" stroke-width="1.0" />
<rect x="208.30" y="65.95" width="2.4" height="1.7" fill="#1a1a1a"/>
<ellipse cx="330.90" cy="81.10" rx="1.75" ry="1.55" fill="#2a2ac0"/>
<line x1="337.20" y1="78.90" x2="337.20" y2="96.60" stroke="#2a2ac0" stroke-width="1.35" />
<ellipse cx="337.20" cy="83.00" rx="1.5" ry="1.2" fill="#2a2ac0"/>
<line x1="346.40" y1="85.00" x2="346.40" y2="102.80" stroke="#2a2ac0" stroke-width="1.35" />
<ellipse cx="346.40" cy="92.30" rx="1.5" ry="1.2" fill="#2a2ac0"/>
<line x1="363.10" y1="45.00" x2="363.10" y2="83.80" stroke="#2a2ac0" stroke-width="1.35" />
<ellipse cx="363.10" cy="60.30" rx="1.5" ry="1.2" fill="#2a2ac0"/>
<line x1="331.00" y1="136.30" x2="331.00" y2="142.20" stroke="#2a2ac0" stroke-width="1.35" />
<ellipse cx="331.00" cy="139.10" rx="1.5" ry="1.2" fill="#2a2ac0"/>
<line x1="427.10" y1="110.60" x2="427.10" y2="121.00" stroke="#2a2ac0" stroke-width="1.35" />
<ellipse cx="427.10" cy="114.10" rx="1.5" ry="1.2" fill="#2a2ac0"/>
<ellipse cx="381.50" cy="56.90" rx="1.75" ry="1.55" fill="#d83234"/>
<line x1="395.30" y1="67.50" x2="395.30" y2="86.70" stroke="#d83234" stroke-width="1.35" />
<ellipse cx="395.30" cy="72.00" rx="1.5" ry="1.2" fill="#d83234"/>
<line x1="386.70" y1="111.00" x2="386.70" y2="116.50" stroke="#d83234" stroke-width="1.35" />
<ellipse cx="386.70" cy="113.00" rx="1.5" ry="1.2" fill="#d83234"/>
<line x1="429.20" y1="45.00" x2="429.20" y2="56.70" stroke="#d83234" stroke-width="1.35" />
<ellipse cx="429.20" cy="49.70" rx="1.5" ry="1.2" fill="#d83234"/>
<line x1="443.80" y1="62.50" x2="443.80" y2="70.30" stroke="#d83234" stroke-width="1.35" />
<ellipse cx="443.80" cy="65.80" rx="1.5" ry="1.2" fill="#d83234"/>
<line x1="473.80" y1="35.30" x2="473.80" y2="48.80" stroke="#d83234" stroke-width="1.35" />
<ellipse cx="473.80" cy="44.40" rx="1.5" ry="1.2" fill="#d83234"/>
<line x1="485.40" y1="44.40" x2="485.40" y2="46.00" stroke="#d83234" stroke-width="1.35" />
<ellipse cx="485.40" cy="45.10" rx="1.5" ry="1.2" fill="#d83234"/>
<line x1="485.40" y1="45.00" x2="485.40" y2="69.20" stroke="#d83234" stroke-width="1.35" />
<ellipse cx="485.40" cy="52.90" rx="1.5" ry="1.2" fill="#d83234"/>
<line x1="500.80" y1="57.90" x2="500.80" y2="66.70" stroke="#d83234" stroke-width="1.35" />
<ellipse cx="500.80" cy="62.10" rx="1.5" ry="1.2" fill="#d83234"/>
<line x1="509.20" y1="78.10" x2="509.20" y2="88.50" stroke="#d83234" stroke-width="1.35" />
<ellipse cx="509.20" cy="82.30" rx="1.5" ry="1.2" fill="#d83234"/>
<line x1="526.90" y1="79.20" x2="526.90" y2="84.40" stroke="#d83234" stroke-width="1.35" />
<ellipse cx="526.90" cy="82.30" rx="1.5" ry="1.2" fill="#d83234"/>
<line x1="463.10" y1="87.50" x2="463.10" y2="100.60" stroke="#d83234" stroke-width="1.35" />
<ellipse cx="463.10" cy="92.50" rx="1.5" ry="1.2" fill="#d83234"/>
<line x1="478.70" y1="125.20" x2="478.70" y2="135.80" stroke="#d83234" stroke-width="1.35" />
<ellipse cx="478.70" cy="132.50" rx="1.5" ry="1.2" fill="#d83234"/>
<line x1="487.30" y1="123.50" x2="487.30" y2="128.50" stroke="#d83234" stroke-width="1.35" />
<ellipse cx="487.30" cy="125.80" rx="1.5" ry="1.2" fill="#d83234"/>
<line x1="512.60" y1="122.00" x2="512.60" y2="129.70" stroke="#d83234" stroke-width="1.35" />
<ellipse cx="512.60" cy="125.30" rx="1.5" ry="1.2" fill="#d83234"/>
<ellipse cx="530.80" cy="128.30" rx="1.75" ry="1.55" fill="#d83234"/>
<line x1="535.60" y1="140.00" x2="535.60" y2="144.70" stroke="#d83234" stroke-width="1.35" />
<ellipse cx="535.60" cy="142.20" rx="1.5" ry="1.2" fill="#d83234"/>
<ellipse cx="593.30" cy="213.90" rx="1.75" ry="1.55" fill="#d83234"/>
<polygon points="498.95,147.00 502.25,147.00 500.60,149.95" fill="#2ed82e" stroke="#2ed82e" stroke-width="0.45" stroke-linejoin="round"/>
<polygon points="517.85,163.30 521.15,163.30 519.50,166.25" fill="#2ed82e" stroke="#2ed82e" stroke-width="0.45" stroke-linejoin="round"/>
<polygon points="549.55,146.50 552.85,146.50 551.20,149.45" fill="#2ed82e" stroke="#2ed82e" stroke-width="0.45" stroke-linejoin="round"/>
<polygon points="566.85,183.80 570.15,183.80 568.50,186.75" fill="#2ed82e" stroke="#2ed82e" stroke-width="0.45" stroke-linejoin="round"/>
<g fill="#3a3a3a" font-family="Liberation Sans, sans-serif" filter="url(#gs)">
<text x="55.60" y="228.50" font-size="7" text-anchor="middle" >1</text>
<text x="106.15" y="228.50" font-size="7" text-anchor="middle" >10</text>
<text x="156.70" y="228.50" font-size="7" text-anchor="middle" >100</text>
<text x="207.25" y="228.50" font-size="7" text-anchor="middle" >1000</text>
<text x="257.10" y="228.10" font-size="7" text-anchor="middle">10</text>
<text x="261.60" y="224.90" font-size="4.8" text-anchor="start">4</text>
<text x="357.50" y="229.20" font-size="7" text-anchor="middle" >1</text>
<text x="408.05" y="229.20" font-size="7" text-anchor="middle" >10</text>
<text x="458.60" y="229.20" font-size="7" text-anchor="middle" >100</text>
<text x="509.15" y="229.20" font-size="7" text-anchor="middle" >1000</text>
<text x="559.00" y="228.80" font-size="7" text-anchor="middle">10</text>
<text x="563.50" y="225.60" font-size="4.8" text-anchor="start">4</text>
<text transform="translate(18.30,190.40) rotate(-90)" font-size="7" text-anchor="middle">1</text>
<text transform="translate(18.30,149.13) rotate(-90)" font-size="7" text-anchor="middle">10</text>
<text transform="translate(18.30,107.86) rotate(-90)" font-size="7" text-anchor="middle">100</text>
<text transform="translate(18.30,66.59) rotate(-90)" font-size="7" text-anchor="middle">1000</text>
<text transform="translate(18.30,26.02) rotate(-90)" font-size="7" text-anchor="middle">10</text>
<text transform="translate(14.90,22.42) rotate(-90)" font-size="4.8" text-anchor="start">4</text>
<text transform="translate(319.90,191.10) rotate(-90)" font-size="7" text-anchor="middle">1</text>
<text transform="translate(319.90,149.75) rotate(-90)" font-size="7" text-anchor="middle">10</text>
<text transform="translate(319.90,108.40) rotate(-90)" font-size="7" text-anchor="middle">100</text>
<text transform="translate(319.90,67.05) rotate(-90)" font-size="7" text-anchor="middle">1000</text>
<text transform="translate(319.90,26.40) rotate(-90)" font-size="7" text-anchor="middle">10</text>
<text transform="translate(316.50,22.80) rotate(-90)" font-size="4.8" text-anchor="start">4</text>
<text x="128.00" y="238.50" font-size="7" textLength="12.6" lengthAdjust="spacingAndGlyphs">Erot</text>
<text x="144.80" y="238.50" font-size="7" textLength="10.6" lengthAdjust="spacingAndGlyphs">(10</text>
<text x="156.20" y="235.20" font-size="5" textLength="5.7" lengthAdjust="spacingAndGlyphs">34</text>
<text x="161.90 165.60 169.10 177.40 182.00" y="238.50" font-size="7">ergs)</text>
<line x1="173.40" y1="239.50" x2="176.50" y2="232.70" stroke="#3a3a3a" stroke-width="0.75"/>
<text x="438.00" y="238.90" font-size="7" textLength="12.6" lengthAdjust="spacingAndGlyphs">Erot</text>
<text x="454.80" y="238.90" font-size="7" textLength="10.6" lengthAdjust="spacingAndGlyphs">(10</text>
<text x="466.20" y="235.60" font-size="5" textLength="5.7" lengthAdjust="spacingAndGlyphs">34</text>
<text x="471.90 475.60 479.10 487.40 492.00" y="238.90" font-size="7">ergs)</text>
<line x1="483.40" y1="239.90" x2="486.50" y2="233.10" stroke="#3a3a3a" stroke-width="0.75"/>
<g transform="translate(5.70,121.20) rotate(-90)">
<text transform="translate(0.88,0) scale(0.75,1)" font-size="7">F</text>
<text transform="translate(5.60,0)" font-size="7">g</text>
<line x1="9.70" y1="1.30" x2="13.70" y2="-5.20" stroke="#3a3a3a" stroke-width="0.75"/>
<text transform="translate(14.48,0) scale(0.75,1)" font-size="7">F</text>
<text transform="translate(18.14,0) scale(0.8,1)" font-size="7">x</text>
</g>
<g transform="translate(307.40,121.00) rotate(-90)">
<text transform="translate(0.14,0) scale(0.75,1)" font-size="6.0">F</text>
<text transform="translate(4.24,0)" font-size="6.0">g</text>
<line x1="8.60" y1="1.60" x2="12.40" y2="-4.20" stroke="#3a3a3a" stroke-width="0.64"/>
<text transform="translate(13.64,0) scale(0.75,1)" font-size="6.0">F</text>
<text transform="translate(17.45,0) scale(0.8,1)" font-size="6.0">x</text>
</g>
</g>
</svg>
</body></html>
